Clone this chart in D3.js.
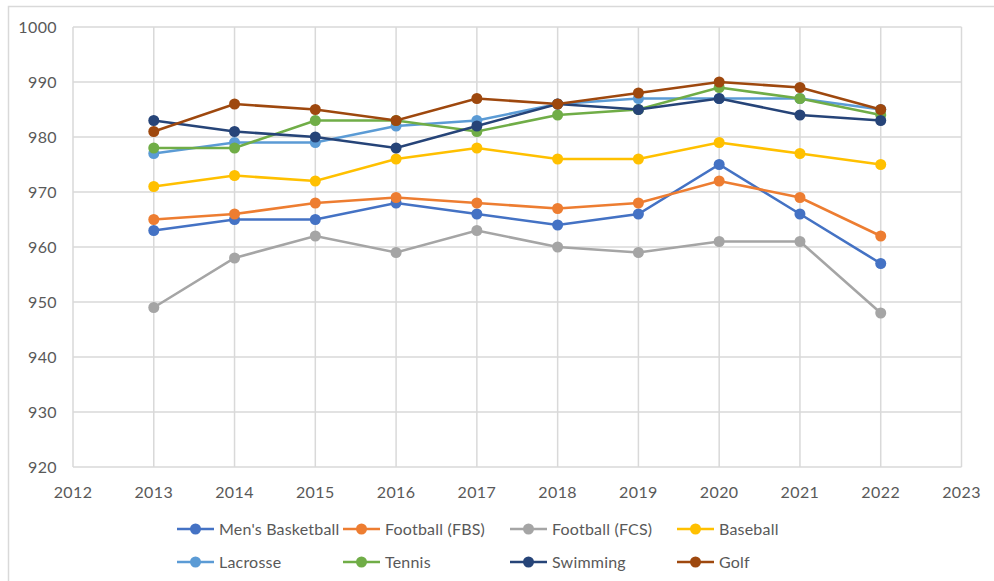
<!DOCTYPE html>
<html>
<head>
<meta charset="utf-8">
<script src="https://cdn.jsdelivr.net/npm/d3@7"></script>
<style>
  body { margin: 0; background: #fff; }
  svg text { font-family: Lato, "Open Sans", sans-serif; fill: #595959; }
</style>
</head>
<body>
<script>
// seasons and APR scores per sport
var years = [2013, 2014, 2015, 2016, 2017, 2018, 2019, 2020, 2021, 2022];
var mensBasketball = [963, 965, 965, 968, 966, 964, 966, 975, 966, 957];
var footballFBS    = [965, 966, 968, 969, 968, 967, 968, 972, 969, 962];
var footballFCS    = [949, 958, 962, 959, 963, 960, 959, 961, 961, 948];
var baseball       = [971, 973, 972, 976, 978, 976, 976, 979, 977, 975];
var lacrosse       = [977, 979, 979, 982, 983, 986, 987, 987, 987, 985];
var tennis         = [978, 978, 983, 983, 981, 984, 985, 989, 987, 984];
var swimming       = [983, 981, 980, 978, 982, 986, 985, 987, 984, 983];
var golf           = [981, 986, 985, 983, 987, 986, 988, 990, 989, 985];

var seriesNames = ["Men's Basketball", "Football (FBS)", "Football (FCS)", "Baseball",
                   "Lacrosse", "Tennis", "Swimming", "Golf"];
var seriesValues = [mensBasketball, footballFBS, footballFCS, baseball,
                    lacrosse, tennis, swimming, golf];
var xTicks = [2012, 2013, 2014, 2015, 2016, 2017, 2018, 2019, 2020, 2021, 2022, 2023];
var yTicks = [920, 930, 940, 950, 960, 970, 980, 990, 1000];

var colors = ["#4472C4", "#ED7D31", "#A5A5A5", "#FFC000", "#5B9BD5", "#70AD47", "#264478", "#9E480E"];

var width = 994, height = 581;
var margin = {top: 27, right: 32, bottom: 114, left: 73};

var svg = d3.select("body").append("svg")
    .attr("width", width)
    .attr("height", height);

// chart frame (runs off the right and bottom edges)
svg.append("rect")
    .attr("x", 8.5).attr("y", 6.5)
    .attr("width", 1000).attr("height", 600)
    .attr("fill", "none")
    .attr("stroke", "#d9d9d9")
    .attr("stroke-width", 1.5);

var x = d3.scaleLinear().domain([2012, 2023]).range([margin.left, width - margin.right - 0.5]);
var y = d3.scaleLinear().domain([920, 1000]).range([height - margin.bottom, margin.top]);

var g = svg.append("g");

// gridlines
g.selectAll(".hgrid").data(yTicks).enter().append("line")
    .attr("x1", x(2012)).attr("x2", x(2023))
    .attr("y1", function(d) { return y(d); }).attr("y2", function(d) { return y(d); })
    .attr("stroke", "#d9d9d9").attr("stroke-width", 1.5);

g.selectAll(".vgrid").data(xTicks).enter().append("line")
    .attr("y1", y(920)).attr("y2", y(1000))
    .attr("x1", function(d) { return x(d); }).attr("x2", function(d) { return x(d); })
    .attr("stroke", "#d9d9d9").attr("stroke-width", 1.5);

// y labels
g.selectAll(".ylab").data(yTicks).enter().append("text")
    .attr("x", 57)
    .attr("y", function(d) { return y(d); })
    .attr("dy", "0.35em")
    .attr("text-anchor", "end")
    .style("font-size", "16px")
    .style("letter-spacing", "0.4px")
    .text(function(d) { return d; });

// x labels
g.selectAll(".xlab").data(xTicks).enter().append("text")
    .attr("x", function(d) { return x(d); })
    .attr("y", 492)
    .attr("dy", "0.35em")
    .attr("text-anchor", "middle")
    .style("font-size", "16px")
    .style("letter-spacing", "0.4px")
    .text(function(d) { return d; });

var line = d3.line()
    .x(function(d, i) { return x(years[i]); })
    .y(function(d) { return y(d); });

var s = g.selectAll(".series").data(seriesValues).enter().append("g");

s.append("path")
    .attr("d", function(d) { return line(d); })
    .attr("fill", "none")
    .attr("stroke", function(d, i) { return colors[i]; })
    .attr("stroke-width", 2.6);

s.each(function(vals, i) {
    d3.select(this).selectAll("circle").data(vals).enter().append("circle")
        .attr("cx", function(d, j) { return x(years[j]); })
        .attr("cy", function(d) { return y(d); })
        .attr("r", 5.5)
        .attr("fill", colors[i]);
});

// legend
var legX = [177, 343, 510, 677];
var legY = [529, 562];
var leg = svg.selectAll(".leg").data(seriesNames).enter().append("g")
    .attr("transform", function(d, i) {
        return "translate(" + legX[i % 4] + "," + legY[Math.floor(i / 4)] + ")";
    });

leg.append("line")
    .attr("x1", 0).attr("x2", 37)
    .attr("stroke", function(d, i) { return colors[i]; })
    .attr("stroke-width", 2.6);

leg.append("circle")
    .attr("cx", 18.5).attr("r", 5.5)
    .attr("fill", function(d, i) { return colors[i]; });

leg.append("text")
    .attr("x", 42)
    .attr("dy", "0.35em")
    .style("font-size", "16px")
    .style("letter-spacing", "0.2px")
    .text(function(d) { return d; });
</script>
</body>
</html>
